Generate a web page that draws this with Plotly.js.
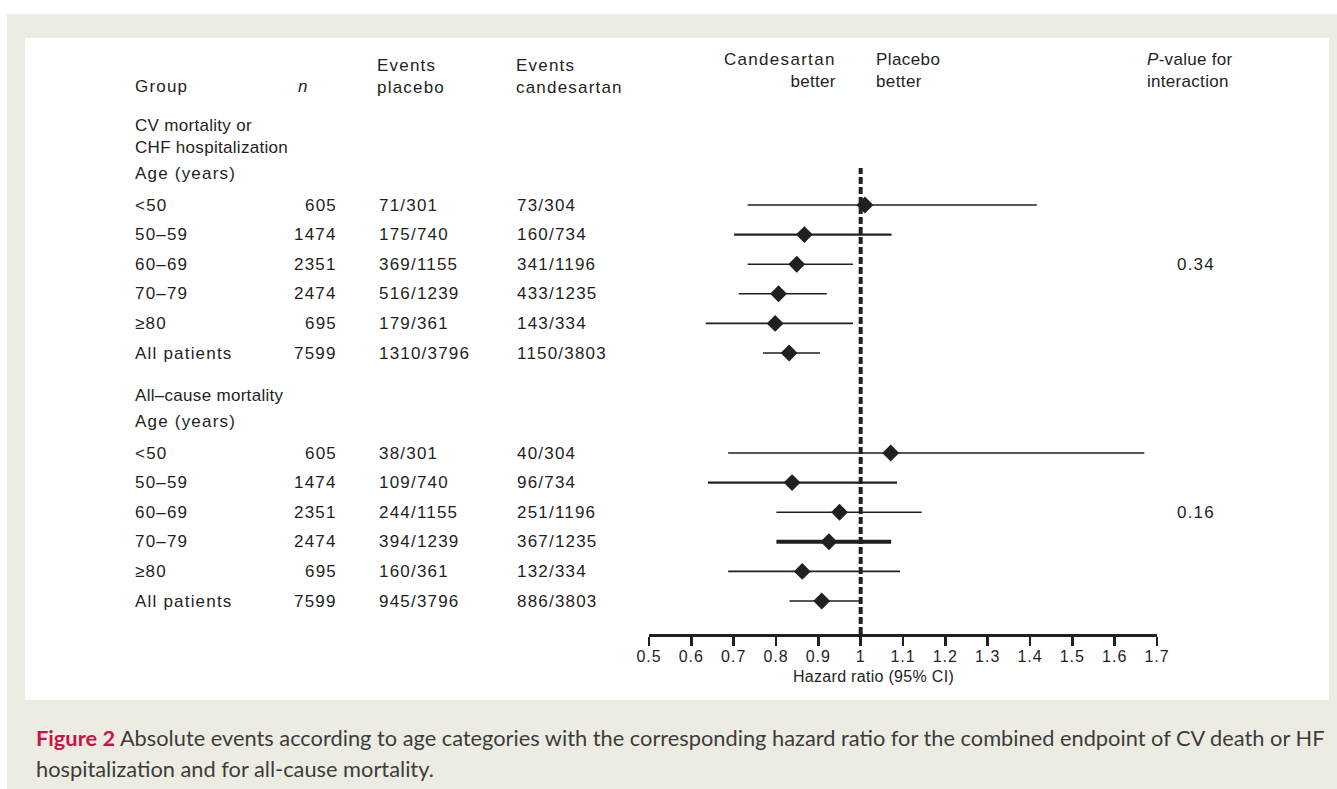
<!DOCTYPE html>
<html>
<head>
<meta charset="utf-8">
<script src="https://cdn.plot.ly/plotly-3.0.1.min.js"></script>
<style>
  html, body { margin: 0; padding: 0; background: #ffffff; }
  #chart { width: 1337px; height: 789px; }
  .annotation-text { letter-spacing: 1.2px; }
  .xtick text { letter-spacing: 1px; }
</style>
</head>
<body>
<div id="chart"></div>
<script>
// ---------------- DATA ----------------
const ageGroups = ['<50', '50–59', '60–69', '70–79', '≥80', 'All patients'];
const nPatients = [605, 1474, 2351, 2474, 695, 7599];

// CV mortality or CHF hospitalization
const cvEventsPlacebo = ['71/301', '175/740', '369/1155', '516/1239', '179/361', '1310/3796'];
const cvEventsCandesartan = ['73/304', '160/734', '341/1196', '433/1235', '143/334', '1150/3803'];
const cvHR = [1.01, 0.867, 0.849, 0.806, 0.798, 0.831];
const cvLower = [0.733, 0.701, 0.733, 0.712, 0.634, 0.769];
const cvUpper = [1.416, 1.073, 0.982, 0.920, 0.982, 0.904];

// All-cause mortality
const acEventsPlacebo = ['38/301', '109/740', '244/1155', '394/1239', '160/361', '945/3796'];
const acEventsCandesartan = ['40/304', '96/734', '251/1196', '367/1235', '132/334', '886/3803'];
const acHR = [1.071, 0.838, 0.950, 0.925, 0.862, 0.908];
const acLower = [0.687, 0.639, 0.801, 0.801, 0.687, 0.832];
const acUpper = [1.670, 1.086, 1.144, 1.072, 1.093, 0.998];

const sectionTitles = ['CV mortality or<br>CHF hospitalization', 'All–cause mortality'];
const pInteraction = ['0.34', '0.16'];

const tickValues = [0.5, 0.6, 0.7, 0.8, 0.9, 1.0, 1.1, 1.2, 1.3, 1.4, 1.5, 1.6, 1.7];
const tickLabels = ['0.5', '0.6', '0.7', '0.8', '0.9', '1', '1.1', '1.2', '1.3', '1.4', '1.5', '1.6', '1.7'];

// ---------------- LAYOUT CONSTANTS ----------------
const W = 1337, H = 789;
const PL = 649, PR = 1157, PT = 168, PB = 634;   // plot area in pixels
const ROW_PX = 29.6;
const FIRST_ROW_PX = 205;
const SECTION_OFFSET = (453 - 205) / ROW_PX;
const INK = '#231f20';
const FONT = 'Liberation Sans, Arial, sans-serif';

const px = x => (x - PL) / (PR - PL);          // pixel x -> paper x
const py = y => (PB - y) / (PB - PT);          // pixel y -> paper y
const rowPaper = u => py(FIRST_ROW_PX + u * ROW_PX);  // row unit -> paper y
const yTop = (PT - FIRST_ROW_PX) / ROW_PX;
const yBottom = (PB - FIRST_ROW_PX) / ROW_PX;

const sections = [
  { title: sectionTitles[0], placebo: cvEventsPlacebo, cand: cvEventsCandesartan, hr: cvHR, lo: cvLower, hi: cvUpper, p: pInteraction[0] },
  { title: sectionTitles[1], placebo: acEventsPlacebo, cand: acEventsCandesartan, hr: acHR, lo: acLower, hi: acUpper, p: pInteraction[1] }
];

// line thickness of individual CIs (style)
function ciWidth(s, i) {
  if (s === 1 && i === 3) return 4;
  if (i === 1) return 2.2;
  return 1.6;
}

const traces = [];
const annotations = [];
const txt = (text, xPix, yref, y, xanchor, extra) => Object.assign({
  text: text, xref: 'paper', x: px(xPix), yref: yref, y: y,
  xanchor: xanchor || 'left', yanchor: 'middle', showarrow: false,
  font: { family: FONT, size: 17, color: INK }, align: xanchor === 'right' ? 'right' : 'left'
}, extra || {});

sections.forEach((sec, s) => {
  const rowY = ageGroups.map((g, i) => s * SECTION_OFFSET + i);
  // confidence intervals
  ageGroups.forEach((g, i) => {
    traces.push({
      type: 'scatter', mode: 'lines', x: [sec.lo[i], sec.hi[i]], y: [rowY[i], rowY[i]],
      line: { color: INK, width: ciWidth(s, i) }, hoverinfo: 'skip', showlegend: false
    });
  });
  // point estimates
  traces.push({
    type: 'scatter', mode: 'markers', x: sec.hr, y: rowY,
    marker: { symbol: 'diamond', size: 13, color: INK, line: { width: 0 } },
    showlegend: false, hoverinfo: 'x'
  });
  // section title + age header
  annotations.push(txt('<span style="letter-spacing:0.3px">' + sec.title + '</span>', 133, 'paper', rowPaper(s * SECTION_OFFSET - 1.55), 'left', { yanchor: 'bottom' }));
  annotations.push(txt('Age (years)', 133, 'paper', rowPaper(s * SECTION_OFFSET - 1.05)));
  // table rows
  ageGroups.forEach((g, i) => {
    annotations.push(txt(g, 133, 'y', rowY[i]));
    annotations.push(txt(String(nPatients[i]), 339, 'y', rowY[i], 'right'));
    annotations.push(txt(sec.placebo[i], 377, 'y', rowY[i]));
    annotations.push(txt(sec.cand[i], 515, 'y', rowY[i]));
  });
  annotations.push(txt(sec.p, 1175, 'y', rowY[2]));
});

// column headers
annotations.push(txt('Group', 133, 'paper', py(87)));
annotations.push(txt('<i>n</i>', 296, 'paper', py(87)));
annotations.push(txt('Events<br>placebo', 375, 'paper', py(76)));
annotations.push(txt('Events<br>candesartan', 514, 'paper', py(76)));
annotations.push(txt('<span style="letter-spacing:1.3px">Candesartan</span><br><span style="letter-spacing:0.3px">better</span>', 838, 'paper', py(70.5), 'right'));
annotations.push(txt('<span style="letter-spacing:0.4px">Placebo<br>better</span>', 874, 'paper', py(70.5)));
annotations.push(txt('<span style="letter-spacing:0.3px"><i>P</i>-value for<br>interaction</span>', 1145, 'paper', py(71)));
annotations.push(txt('<span style="letter-spacing:0.3px">Hazard ratio (95% CI)</span>', 873, 'paper', py(676), 'center', { font: { family: FONT, size: 16, color: INK } }));

// caption
const CAP_FONT = { family: 'Lato, sans-serif', size: 21.8, color: '#3c3c3c' };
annotations.push(txt('<span style="letter-spacing:0px"><span style="color:#cc1244"><b>Figure 2</b></span> Absolute events according to age categories with the corresponding hazard ratio for the combined endpoint of CV death or HF</span>',
  34, 'paper', py(737), 'left', { font: CAP_FONT }));
annotations.push(txt('<span style="letter-spacing:0px">hospitalization and for all-cause mortality.</span>',
  34, 'paper', py(768), 'left', { font: CAP_FONT }));

const shapes = [
  { type: 'rect', xref: 'paper', yref: 'paper', x0: px(7), x1: px(1337), y0: py(14), y1: py(789), fillcolor: '#edece2', line: { width: 0 }, layer: 'below' },
  { type: 'rect', xref: 'paper', yref: 'paper', x0: px(25), x1: px(1329), y0: py(38), y1: py(700), fillcolor: '#ffffff', line: { width: 0 }, layer: 'below' },
  { type: 'line', xref: 'x', yref: 'paper', x0: 1, x1: 1, y0: 0, y1: 1, line: { color: INK, width: 4, dash: '7px,3px' }, layer: 'above' }
];

const layout = {
  width: W, height: H,
  margin: { l: PL, r: W - PR, t: PT, b: H - PB, pad: 0 },
  paper_bgcolor: '#ffffff', plot_bgcolor: 'rgba(0,0,0,0)',
  showlegend: false,
  xaxis: {
    range: [0.5, 1.7], tickvals: tickValues, ticktext: tickLabels,
    showline: true, linecolor: INK, linewidth: 2.5, mirror: false,
    ticks: 'outside', ticklen: 9, tickwidth: 2.5, tickcolor: INK,
    ticklabelstandoff: -3,
    showgrid: false, zeroline: false, fixedrange: true,
    tickfont: { family: FONT, size: 16, color: INK }
  },
  yaxis: { range: [yBottom, yTop], visible: false, showgrid: false, zeroline: false, fixedrange: true },
  shapes: shapes,
  annotations: annotations
};

Plotly.newPlot('chart', traces, layout, { displayModeBar: false, staticPlot: true });
</script>
</body>
</html>
